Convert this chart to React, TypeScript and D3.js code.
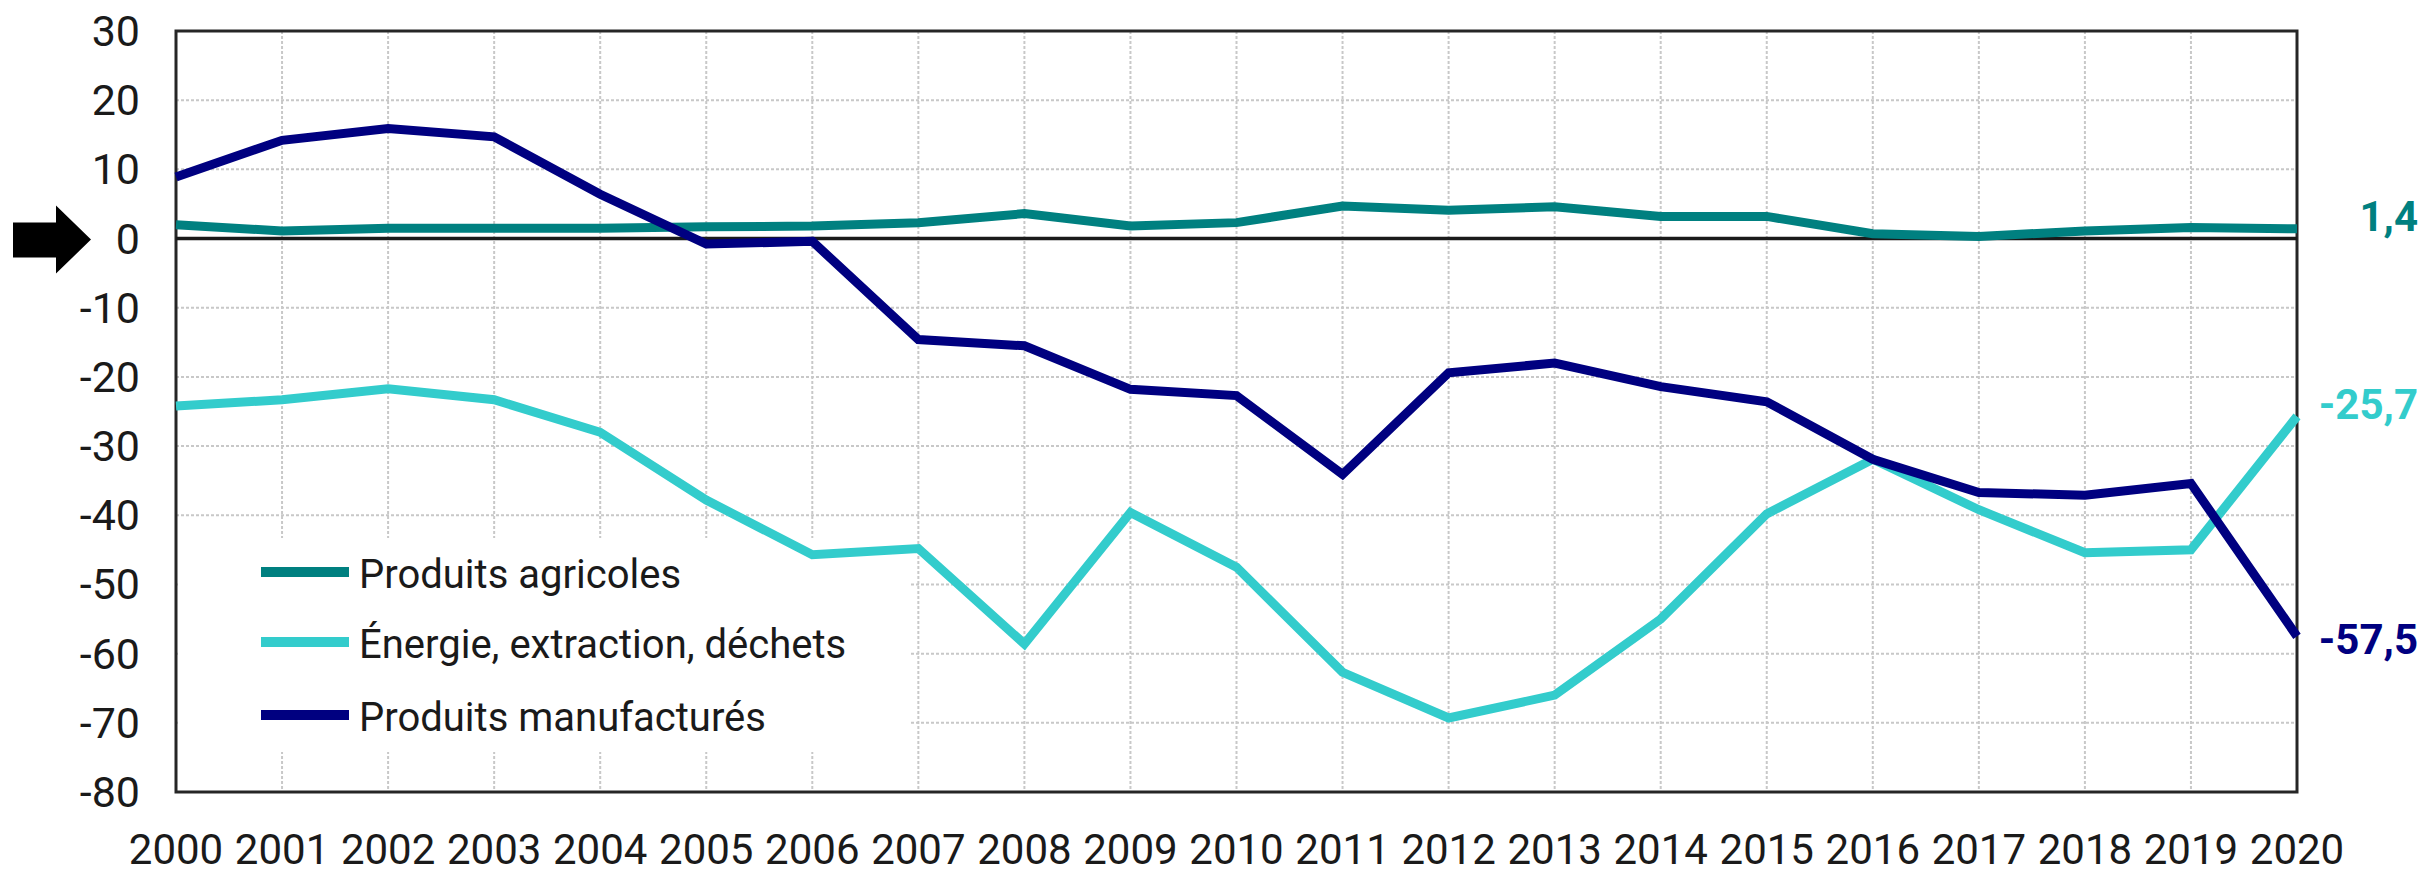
import { useEffect, useRef } from "react";
import * as d3 from "d3";

const years = d3.range(2000, 2021);
const yTicks = [30, 20, 10, 0, -10, -20, -30, -40, -50, -60, -70, -80];

const agricoles = [2.0, 1.1, 1.5, 1.5, 1.5, 1.7, 1.8, 2.3, 3.6, 1.8, 2.3, 4.7, 4.1, 4.6, 3.2, 3.2, 0.7, 0.3, 1.1, 1.6, 1.4];
const energie = [-24.2, -23.3, -21.7, -23.3, -28.0, -37.8, -45.7, -44.8, -58.6, -39.6, -47.5, -62.7, -69.3, -66.0, -55.0, -39.8, -31.9, -39.2, -45.4, -45.0, -25.7];
const manufactures = [8.9, 14.2, 15.9, 14.7, 6.4, -0.8, -0.4, -14.6, -15.5, -21.8, -22.7, -34.1, -19.4, -18.0, -21.4, -23.6, -31.9, -36.7, -37.1, -35.4, -57.5];

const seriesNames = ["Produits agricoles", "Énergie, extraction, déchets", "Produits manufacturés"];
const endLabels = ["1,4", "-25,7", "-57,5"];

const COLORS = ["#008080", "#33cccc", "#000080"];

export default function App() {
  const ref = useRef<SVGSVGElement | null>(null);

  useEffect(() => {
    const svg = d3.select(ref.current);
    const W = 2428, H = 874;
    const m = { l: 176, r: 2297, t: 31, b: 792 };
    svg.attr("viewBox", `0 0 ${W} ${H}`);
    svg.selectAll("*").remove();

    const x = d3.scaleLinear().domain([2000, 2020]).range([m.l, m.r]);
    const y = d3.scaleLinear().domain([-80, 30]).range([m.b, m.t]);

    svg.append("rect").attr("width", W).attr("height", H).attr("fill", "#fff");

    // grid
    const grid = svg.append("g")
      .attr("stroke", "#c8c8c8")
      .attr("stroke-width", 2)
      .attr("stroke-dasharray", "3 2");
    grid.selectAll("line.v")
      .data(years.slice(1, -1))
      .enter().append("line")
      .attr("x1", d => x(d)).attr("x2", d => x(d))
      .attr("y1", m.t).attr("y2", m.b);
    grid.selectAll("line.h")
      .data(yTicks.slice(1, -1))
      .enter().append("line")
      .attr("x1", m.l).attr("x2", m.r)
      .attr("y1", d => y(d)).attr("y2", d => y(d));

    // legend background hides the grid
    svg.append("rect")
      .attr("x", m.l + 2).attr("y", 538)
      .attr("width", 909 - m.l).attr("height", 214)
      .attr("fill", "#fff");

    // frame
    svg.append("rect")
      .attr("x", m.l).attr("y", m.t)
      .attr("width", m.r - m.l).attr("height", m.b - m.t)
      .attr("fill", "none")
      .attr("stroke", "#262626")
      .attr("stroke-width", 3);

    svg.append("line")
      .attr("x1", m.l).attr("x2", m.r)
      .attr("y1", y(0)).attr("y2", y(0))
      .attr("stroke", "#1a1a1a")
      .attr("stroke-width", 3.5);

    // y tick labels
    svg.append("g")
      .selectAll("text")
      .data(yTicks)
      .enter().append("text")
      .attr("x", 140)
      .attr("y", d => y(d))
      .attr("text-anchor", "end")
      .attr("dominant-baseline", "central")
      .attr("font-family", "Roboto")
      .attr("font-size", 43)
      .attr("fill", "#1a1a1a")
      .text(d => String(d));

    // x tick labels
    svg.append("g")
      .selectAll("text")
      .data(years)
      .enter().append("text")
      .attr("x", d => x(d))
      .attr("y", 864)
      .attr("text-anchor", "middle")
      .attr("font-family", "Roboto")
      .attr("font-size", 42)
      .attr("fill", "#1a1a1a")
      .text(d => String(d));

    // arrow on the zero line
    const y0 = y(0);
    svg.append("path")
      .attr("d", `M 13 ${y0 - 16} L 56 ${y0 - 16} L 56 ${y0 - 33} L 91 ${y0 + 1} L 56 ${y0 + 35} L 56 ${y0 + 19} L 13 ${y0 + 19} Z`)
      .attr("fill", "#000");

    const allSeries = [agricoles, energie, manufactures];
    const line = d3.line<number>()
      .x((_, i) => x(years[i]))
      .y(d => y(d));

    allSeries.forEach((vals, k) => {
      svg.append("path")
        .datum(vals)
        .attr("d", line)
        .attr("fill", "none")
        .attr("stroke", COLORS[k])
        .attr("stroke-width", 9)
        .attr("stroke-linejoin", "miter");
    });

    // end labels
    const labelDy = [-12, -12, 3];
    allSeries.forEach((vals, k) => {
      svg.append("text")
        .attr("x", 2418)
        .attr("y", y(vals[vals.length - 1]) + labelDy[k])
        .attr("text-anchor", "end")
        .attr("dominant-baseline", "central")
        .attr("font-family", "Roboto")
        .attr("font-weight", 700)
        .attr("font-size", 42)
        .attr("fill", COLORS[k])
        .text(endLabels[k]);
    });

    // legend
    const lg = svg.append("g");
    const legendY = [572, 642, 715];
    seriesNames.forEach((name, k) => {
      lg.append("line")
        .attr("x1", 261).attr("x2", 349)
        .attr("y1", legendY[k]).attr("y2", legendY[k])
        .attr("stroke", COLORS[k])
        .attr("stroke-width", 10);
      lg.append("text")
        .attr("x", 359)
        .attr("y", legendY[k] + 2)
        .attr("dominant-baseline", "central")
        .attr("font-family", "Roboto")
        .attr("font-size", 40)
        .attr("fill", "#1a1a1a")
        .text(name);
    });
  }, []);

  return (
    <svg
      ref={ref}
      width={2428}
      height={874}
      style={{ position: "absolute", left: 0, top: 0, display: "block" }}
    />
  );
}
